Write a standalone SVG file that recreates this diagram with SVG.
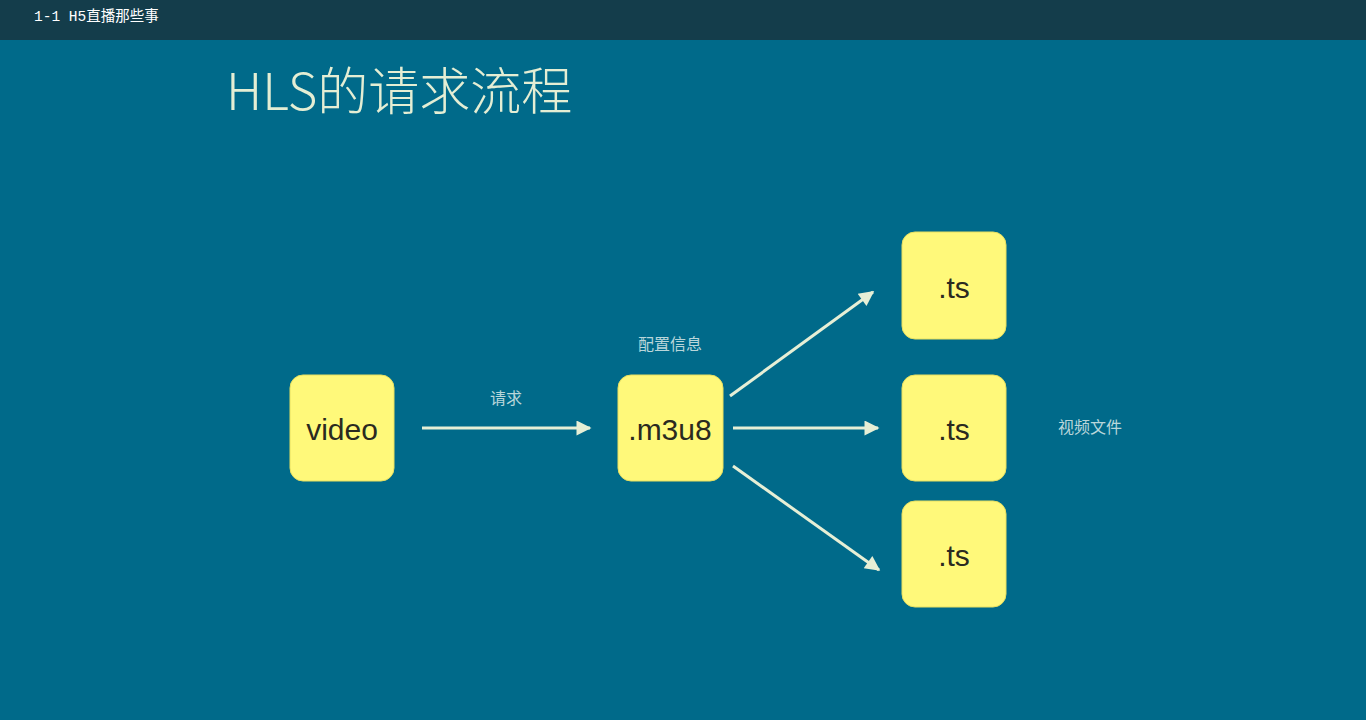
<svg xmlns="http://www.w3.org/2000/svg" width="1366" height="720" viewBox="0 0 1366 720">
<defs>
<marker id="ah" viewBox="0 0 10 10" refX="9" refY="5" markerWidth="5.5" markerHeight="5" orient="auto" markerUnits="strokeWidth">
<path d="M0,0 L10,5 L0,10 z" fill="#e6efd6"/>
</marker>
</defs>
<style>
.box{fill:#fff97a;stroke:#e8e060;stroke-width:1}
.bt{font-family:"Liberation Sans","Noto Sans",sans-serif;font-size:30px;fill:#2a2a20;text-anchor:middle}
.lbl{font-family:"Noto Sans CJK SC",sans-serif;font-size:16px;fill:#b9d6da;text-anchor:middle}
.conn{stroke:#e6efd6;stroke-width:3;fill:none;marker-end:url(#ah)}
</style>
<rect x="0" y="0" width="1366" height="720" fill="#006a8a"/>
<rect x="0" y="0" width="1366" height="40" fill="#143d4b"/>
<text x="34" y="21" font-family="Liberation Mono,'Noto Sans CJK SC',monospace" font-size="14.5" fill="#ffffff">1-1 H5直播那些事</text>
<text x="226" y="110" font-family="'Noto Sans CJK SC',sans-serif" font-weight="300" font-size="51" fill="#e4eed4">HLS的请求流程</text>
<g id="connectors">
<line class="conn" x1="422" y1="428" x2="590" y2="428"/>
<line class="conn" x1="730" y1="396" x2="873" y2="292"/>
<line class="conn" x1="733" y1="428" x2="878" y2="428"/>
<line class="conn" x1="733" y1="466" x2="879" y2="570"/>
</g>
<g id="lbl-req"><text class="lbl" x="506" y="404">请求</text></g>
<g id="lbl-cfg"><text class="lbl" x="670" y="350">配置信息</text></g>
<g id="lbl-vid"><text class="lbl" x="1090" y="433">视频文件</text></g>
<g id="video"><rect class="box" x="290" y="375" width="104" height="106" rx="13"/><text class="bt" x="342" y="440">video</text></g>
<g id="m3u8"><rect class="box" x="618" y="375" width="105" height="106" rx="13"/><text class="bt" x="670" y="440">.m3u8</text></g>
<g id="ts1"><rect class="box" x="902" y="232" width="104" height="107" rx="13"/><text class="bt" x="954" y="298">.ts</text></g>
<g id="ts2"><rect class="box" x="902" y="375" width="104" height="106" rx="13"/><text class="bt" x="954" y="440">.ts</text></g>
<g id="ts3"><rect class="box" x="902" y="501" width="104" height="106" rx="13"/><text class="bt" x="954" y="566">.ts</text></g>
</svg>
